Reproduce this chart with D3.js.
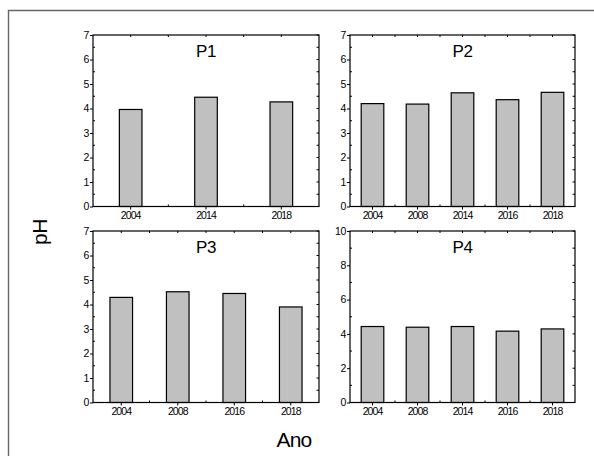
<!DOCTYPE html>
<html>
<head>
<meta charset="utf-8">
<script src="https://cdn.jsdelivr.net/npm/d3@7"></script>
<style>
  html, body { margin: 0; padding: 0; background: #fff; }
  svg { display: block; font-family: "Liberation Sans", Arial, sans-serif; }
</style>
</head>
<body>
<svg id="chart" width="594" height="456"></svg>
<script>
// ---- data ----
const p1Years = ["2004", "2014", "2018"];
const p1Values = [3.96, 4.46, 4.27];
const p2Years = ["2004", "2008", "2014", "2016", "2018"];
const p2Values = [4.20, 4.18, 4.64, 4.36, 4.66];
const p3Years = ["2004", "2008", "2016", "2018"];
const p3Values = [4.29, 4.52, 4.45, 3.90];
const p4Years = ["2004", "2008", "2014", "2016", "2018"];
const p4Values = [4.43, 4.39, 4.43, 4.16, 4.29];
const panelTitles = ["P1", "P2", "P3", "P4"];
const yMaxes = [7, 7, 7, 10];
const yMajorSteps = [1, 1, 1, 2];
const xTitle = "Ano";
const yTitle = "pH";

const panels = [
  { title: panelTitles[0], years: p1Years, values: p1Values, ymax: yMaxes[0], step: yMajorSteps[0] },
  { title: panelTitles[1], years: p2Years, values: p2Values, ymax: yMaxes[1], step: yMajorSteps[1] },
  { title: panelTitles[2], years: p3Years, values: p3Values, ymax: yMaxes[2], step: yMajorSteps[2] },
  { title: panelTitles[3], years: p4Years, values: p4Values, ymax: yMaxes[3], step: yMajorSteps[3] }
];

// ---- layout ----
const svg = d3.select("#chart");
const boxes = [
  { x0: 93, x1: 319, y0: 35, y1: 206.5 },
  { x0: 350, x1: 575, y0: 35, y1: 206.5 },
  { x0: 93, x1: 319, y0: 231, y1: 402.5 },
  { x0: 350, x1: 575, y0: 231, y1: 402.5 }
];
const barW = 22.6;
const tickFont = "'Liberation Sans', Arial, sans-serif";

// outer frame (open to right/bottom as in reference)
svg.append("path")
  .attr("d", "M8.5,456 L8.5,10.5 L594,10.5")
  .attr("fill", "none").attr("stroke", "#666").attr("stroke-width", 1.4);

panels.forEach((p, i) => {
  const b = boxes[i];
  const g = svg.append("g");
  const x = d3.scaleBand().domain(p.years).range([b.x0, b.x1]).padding(0);
  const y = d3.scaleLinear().domain([0, p.ymax]).range([b.y1, b.y0]);

  // bars
  g.selectAll("rect.bar").data(p.years).enter().append("rect")
    .attr("class", "bar")
    .attr("x", d => x(d) + x.bandwidth() / 2 - barW / 2)
    .attr("width", barW)
    .attr("y", (d, j) => y(p.values[j]))
    .attr("height", (d, j) => y(0) - y(p.values[j]))
    .attr("fill", "#c0c0c0")
    .attr("stroke", "#000")
    .attr("stroke-width", 1.2);

  const majors = d3.range(0, p.ymax + 0.001, p.step);
  const minors = d3.range(p.step / 2, p.ymax, p.step);

  // left axis
  const left = g.append("g").attr("transform", `translate(${b.x0},0)`)
    .call(d3.axisLeft(y).tickValues(majors).tickSize(3).tickPadding(1).tickFormat(d3.format("d")));
  left.select(".domain").remove();
  left.selectAll("text").attr("font-size", 10.5).attr("fill", "#000")
    .attr("font-family", tickFont).attr("letter-spacing", -0.4);
  left.selectAll(".tick line").attr("stroke", "#000");
  // left minor ticks (inward)
  g.selectAll("line.lmin").data(minors).enter().append("line")
    .attr("x1", b.x0).attr("x2", b.x0 + 2).attr("y1", d => y(d)).attr("y2", d => y(d))
    .attr("stroke", "#000");
  // right ticks inward (major + minor)
  g.selectAll("line.rt").data(majors.concat(minors)).enter().append("line")
    .attr("x1", b.x1).attr("x2", b.x1 - 2.5).attr("y1", d => y(d)).attr("y2", d => y(d))
    .attr("stroke", "#000");

  // bottom axis
  const bottom = g.append("g").attr("transform", `translate(0,${b.y1})`)
    .call(d3.axisBottom(x).tickSize(3).tickPadding(2));
  bottom.select(".domain").remove();
  bottom.selectAll("text").attr("font-size", 10.5).attr("fill", "#000")
    .attr("font-family", tickFont).attr("letter-spacing", -0.9);
  bottom.selectAll(".tick line").attr("stroke", "#000");
  // bottom minor ticks between categories (inward)
  const bounds = p.years.slice(1).map(d => x(d));
  g.selectAll("line.bmin").data(bounds).enter().append("line")
    .attr("x1", d => d).attr("x2", d => d).attr("y1", b.y1).attr("y2", b.y1 - 2)
    .attr("stroke", "#000");
  // top ticks inward
  const topTicks = p.years.map(d => x(d) + x.bandwidth() / 2).concat(bounds);
  g.selectAll("line.tt").data(topTicks).enter().append("line")
    .attr("x1", d => d).attr("x2", d => d).attr("y1", b.y0).attr("y2", b.y0 + 2)
    .attr("stroke", "#000");

  // frame
  g.append("rect")
    .attr("x", b.x0).attr("y", b.y0)
    .attr("width", b.x1 - b.x0).attr("height", b.y1 - b.y0)
    .attr("fill", "none").attr("stroke", "#000").attr("stroke-width", 1.2);

  // title
  g.append("text")
    .attr("x", (b.x0 + b.x1) / 2).attr("y", b.y0 + 22)
    .attr("text-anchor", "middle")
    .attr("font-size", 17).attr("letter-spacing", -0.3).attr("fill", "#000")
    .text(p.title);
});

// axis titles
svg.append("text")
  .attr("x", 294).attr("y", 447)
  .attr("text-anchor", "middle").attr("font-size", 21).attr("letter-spacing", -0.8)
  .attr("fill", "#000").text(xTitle);
svg.append("text")
  .attr("transform", "translate(47,232) rotate(-90)")
  .attr("text-anchor", "middle").attr("font-size", 21).attr("letter-spacing", -0.5)
  .attr("fill", "#000").text(yTitle);
</script>
</body>
</html>
